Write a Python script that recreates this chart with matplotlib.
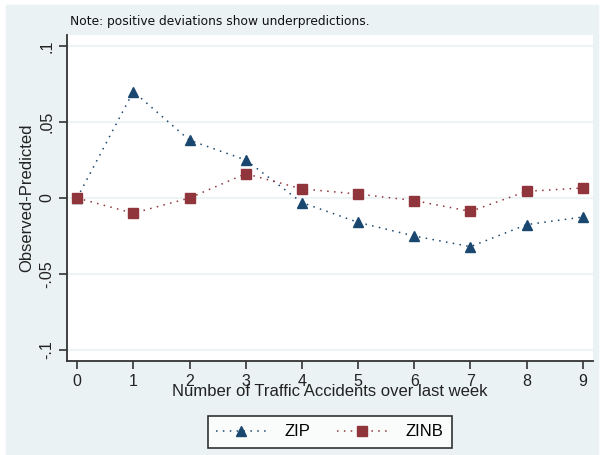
import matplotlib.pyplot as plt
from matplotlib.patches import Rectangle

plt.rcParams['font.family'] = ['Liberation Sans', 'DejaVu Sans']

# Deviations (observed - predicted) by number of accidents
counts = [0, 1, 2, 3, 4, 5, 6, 7, 8, 9]
zip_dev = [0.0, 0.070, 0.038, 0.025, -0.003, -0.016, -0.025, -0.032, -0.0175, -0.0125]
zinb_dev = [0.0, -0.010, 0.0, 0.016, 0.006, 0.0026, -0.0017, -0.0088, 0.0044, 0.0066]
ytick_vals = [-0.1, -0.05, 0, 0.05, 0.1]
ytick_labels = ['-.1', '-.05', '0', '.05', '.1']

bg = '#EAF2F3'
navy = '#1A476F'
maroon = '#90353B'

fig = plt.figure(figsize=(6, 4.55), dpi=100, facecolor='white')
fig.patches.append(Rectangle((6 / 600, 0), 592 / 600, 450 / 455,
                             transform=fig.transFigure, color=bg, zorder=-10))

ax = fig.add_axes([67 / 600, 94 / 455, 526 / 600, 326 / 455])
ax.set_facecolor('white')

for y in ytick_vals:
    ax.axhline(y, color=bg, lw=1.2, zorder=1)

dots = (0, (1, 3.5))
ax.plot(counts, zip_dev, color=navy, ls=dots, lw=1.1, marker='^', ms=7,
        label='ZIP', zorder=3)
ax.plot(counts, zinb_dev, color=maroon, ls=dots, lw=1.1, marker='s', ms=7,
        label='ZINB', zorder=3)

ax.set_xlim(-0.18, 9.18)
ax.set_ylim(-0.1072, 0.1072)
ax.set_xticks(counts)
ax.set_yticks(ytick_vals)
ax.set_yticklabels(ytick_labels, rotation=90, va='center')
ax.tick_params(axis='both', direction='out', length=6, width=1.2,
               color='#333333', labelsize=11.5, labelcolor='#222222')
ax.tick_params(axis='x', pad=3)
ax.tick_params(axis='y', pad=3)

for side in ['top', 'right']:
    ax.spines[side].set_visible(False)
for side in ['left', 'bottom']:
    ax.spines[side].set_color('#333333')
    ax.spines[side].set_linewidth(1.3)

ax.set_xlabel('Number of Traffic Accidents over last week', fontsize=12,
              color='#222222', labelpad=-3)
ax.set_ylabel('Observed-Predicted', fontsize=12, color='#222222', labelpad=4)

fig.text(70 / 600, 1 - 22 / 455, 'Note: positive deviations show underpredictions.',
         fontsize=8.8, va='center', ha='left', color='#111111',
         family=['DejaVu Sans'])

leg = fig.legend(loc='center', bbox_to_anchor=(330 / 600, 1 - 432 / 455),
                 ncol=2, frameon=True, fancybox=False, fontsize=12,
                 handlelength=3.0, columnspacing=1.6, borderpad=0.5,
                 handletextpad=1.1)
leg.get_frame().set_edgecolor('black')
leg.get_frame().set_linewidth(1.2)
leg.get_frame().set_facecolor('white')

fig.savefig('out.png', dpi=100, facecolor=fig.get_facecolor())
